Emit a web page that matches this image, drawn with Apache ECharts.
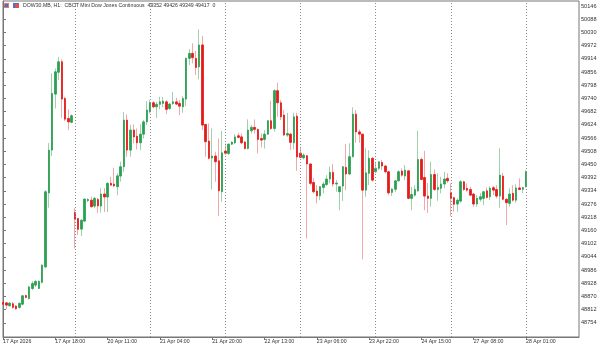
<!DOCTYPE html>
<html>
<head>
<meta charset="utf-8">
<script src="https://cdn.jsdelivr.net/npm/echarts@6/dist/echarts.min.js"></script>
<style>
html,body{margin:0;padding:0;background:#fff}
#main{width:600px;height:345px}
</style>
</head>
<body>
<div id="main"></div>
<script>
// DOW30.MB H1, 17 Apr 02:00 .. 28 Apr 01:00 (one bar per hour, bar index on x)
var openVals = [48844,48842,48829,48838,48828,48822,48836,48874,48861,48905,48920,48905,48932,49000,49325,49513,49759,49855,49901,49740,49652,49635,
	49239,49213,49166,49201,49291,49293,49267,49296,49267,49320,49307,49367,49364,49352,49399,49440,49645,49513,49601,49574,49545,49583,49637,
	49681,49721,49703,49714,49718,49725,49696,49718,49725,49718,49703,49737,49916,49938,49916,49879,49975,49626,49553,49478,49487,49466,49330,
	49509,49498,49539,49545,49576,49571,49549,49520,49598,49613,49604,49564,49560,49583,49642,49608,49774,49721,49667,49579,49583,49545,49662,
	49500,49479,49488,49452,49371,49333,49312,49349,49362,49386,49415,49364,49330,49355,49437,49408,49484,49671,49593,49583,49337,49411,49477,
	49418,49433,49459,49443,49418,49327,49341,49378,49421,49399,49422,49301,49315,49334,49472,49393,49311,49301,49406,49340,49345,49364,49389,
	49325,49304,49276,49289,49374,49345,49340,49320,49276,49297,49301,49334,49308,49348,49340,49311,49399,49297,49279,49323,49293,49347,49341,
	49352];
var closeVals = [48836,48832,48841,48822,48816,48840,48873,48866,48912,48927,48936,48937,49008,49330,49513,49762,49857,49901,49737,49649,49637,49664,
	49210,49165,49205,49298,49296,49264,49301,49268,49320,49307,49367,49359,49356,49400,49440,49645,49513,49601,49571,49545,49583,49637,49689,
	49721,49703,49714,49725,49728,49692,49715,49725,49715,49706,49740,49916,49938,49919,49876,49975,49623,49550,49477,49487,49462,49334,49501,
	49499,49539,49548,49571,49569,49545,49520,49601,49613,49604,49560,49557,49583,49642,49608,49774,49721,49659,49579,49586,49547,49659,49483,
	49481,49491,49452,49367,49330,49312,49352,49364,49386,49415,49364,49368,49352,49440,49408,49484,49671,49593,49583,49337,49413,49477,49381,
	49433,49462,49443,49418,49325,49342,49378,49418,49403,49425,49301,49318,49340,49472,49384,49311,49301,49406,49340,49349,49364,49386,49378,
	49301,49275,49293,49374,49340,49337,49315,49276,49301,49308,49330,49305,49345,49337,49311,49403,49297,49282,49320,49293,49347,49340,49348,
	49417];
var lowVals = [48832,48814,48827,48816,48812,48816,48831,48862,48857,48898,48911,48903,48927,48994,49260,49487,49696,49821,49655,49640,49601,49631,
	49081,49140,49135,49198,49285,49261,49257,49237,49239,49241,49241,49358,49350,49315,49374,49418,49484,49484,49542,49516,49513,49564,49623,
	49674,49697,49654,49692,49701,49671,49689,49711,49711,49667,49677,49706,49887,49894,49843,49824,49601,49484,49472,49340,49374,49223,49286,
	49491,49491,49535,49539,49564,49539,49515,49516,49586,49586,49499,49525,49520,49579,49601,49594,49659,49645,49577,49571,49513,49516,49422,
	49478,49472,49125,49359,49323,49279,49293,49323,49355,49367,49352,49330,49249,49290,49337,49403,49481,49545,49545,49033,49308,49359,49374,
	49411,49425,49425,49411,49315,49311,49330,49374,49396,49381,49297,49249,49308,49330,49381,49249,49237,49264,49334,49290,49323,49345,49369,
	49223,49242,49242,49282,49334,49330,49311,49264,49264,49286,49271,49301,49293,49315,49301,49260,49293,49184,49264,49286,49282,49337,49323,
	49349];
var highVals = [48849,48845,48845,48846,48832,48843,48877,48878,48917,48937,48942,48940,49011,49337,49544,49850,49872,49923,49912,49747,49692,49670,
	49258,49214,49210,49300,49302,49308,49308,49303,49345,49346,49372,49396,49434,49411,49462,49681,49670,49623,49626,49608,49626,49645,49728,
	49733,49728,49725,49747,49747,49733,49721,49769,49743,49733,49750,49920,49957,49982,49949,50043,50015,49627,49630,49608,49506,49564,49597,
	49542,49542,49552,49583,49589,49586,49552,49648,49623,49648,49608,49586,49601,49645,49730,49780,49809,49733,49689,49677,49589,49677,49677,
	49526,49499,49491,49455,49389,49359,49355,49374,49403,49440,49452,49381,49355,49443,49540,49543,49701,49689,49604,49586,49521,49513,49484,
	49462,49462,49469,49447,49421,49345,49381,49425,49433,49447,49425,49352,49359,49598,49481,49510,49369,49462,49428,49411,49396,49418,49411,
	49367,49308,49301,49381,49378,49367,49352,49325,49315,49325,49334,49349,49355,49355,49359,49521,49413,49301,49345,49359,49363,49389,49352,
	49426];
var xTickBars = [0,16,32,48,64,80,96,112,128,144,160];
var xTickLabels = ['17 Apr 2026','17 Apr 18:00','20 Apr 11:00','21 Apr 04:00','21 Apr 20:00','22 Apr 13:00',
	'23 Apr 06:00','23 Apr 22:00','24 Apr 15:00','27 Apr 08:00','28 Apr 01:00'];
var daySeparators = [22,45,68,91,114,137,160];
var yTicks = [48754,48812,48870,48928,48986,49044,49102,49160,49218,49276,49334,49392,49450,49508,
	49566,49624,49682,49740,49798,49856,49914,49972,50030,50088,50146];

var myChart = echarts.init(document.getElementById('main'));
var wickData = [], bodyData = [];
for (var i = 0; i < openVals.length; i++) {
	wickData.push([i, openVals[i], closeVals[i], lowVals[i], highVals[i]]);
	bodyData.push([i, openVals[i], closeVals[i], Math.min(openVals[i], closeVals[i]), Math.max(openVals[i], closeVals[i])]);
}
var sepLines = daySeparators.map(function(b){ return {xAxis: b}; });

var option = {
	animation: false,
	backgroundColor: '#fff',
	title: {
		text: 'DOW30.MB, H1:  CBOT Mini Dow Jones Continuous  49352 49426 49349 49417  0',
		left: 23, top: 3, padding: 0,
		textStyle: {fontFamily: 'Liberation Sans', fontSize: 5.2, fontWeight: 'normal', color: '#333'}
	},
	graphic: [
		{type: 'rect', left: 3, top: 3, shape: {width: 6, height: 5}, style: {fill: '#e07878'}},
		{type: 'rect', left: 5, top: 4, shape: {width: 3, height: 3}, style: {fill: '#4a6fd0'}},
		{type: 'rect', left: 13, top: 3, shape: {width: 6, height: 5}, style: {fill: '#4a6fd0'}},
		{type: 'rect', left: 15, top: 4, shape: {width: 4, height: 4}, style: {fill: '#e05050'}}
	],
	grid: {left: 0, right: 21, top: 1, bottom: 8, show: true, borderColor: '#777', borderWidth: 1},
	xAxis: {
		type: 'value', min: 0, max: 176.2,
		splitLine: {show: false},
		axisLine: {show: true, lineStyle: {color: '#777'}},
		axisTick: {show: true, length: 3, customValues: xTickBars, lineStyle: {color: '#777'}},
		axisLabel: {
			customValues: xTickBars, align: 'left', margin: 2,
			fontFamily: 'Liberation Sans', fontSize: 5.2, color: '#333',
			formatter: function(v){ return xTickLabels[xTickBars.indexOf(v)] || ''; }
		}
	},
	yAxis: {
		type: 'value', position: 'right', min: 48692, max: 50168, scale: true,
		splitLine: {show: false},
		axisLine: {show: true, lineStyle: {color: '#777'}},
		axisTick: {show: true, length: 3, customValues: yTicks, lineStyle: {color: '#777'}},
		axisLabel: {
			customValues: yTicks, margin: 2,
			fontFamily: 'Liberation Sans', fontSize: 5.6, color: '#333',
			formatter: function(v){ return String(v); }
		}
	},
	series: [
		{
			name: 'wick', type: 'candlestick', data: wickData,
			encode: {x: 0, y: [1, 2, 3, 4]},
			barWidth: 1, clip: true,
			itemStyle: {color: '#9fd1ac', color0: '#f0a8a8', borderColor: '#9fd1ac', borderColor0: '#f0a8a8', borderWidth: 1}
		},
		{
			name: 'body', type: 'candlestick', data: bodyData,
			encode: {x: 0, y: [1, 2, 3, 4]},
			barWidth: 2, clip: true,
			itemStyle: {color: '#2ba052', color0: '#e41b1b', borderColor: '#2ba052', borderColor0: '#e41b1b', borderWidth: 0.8},
			markLine: {
				silent: true, symbol: ['none', 'none'],
				label: {show: false},
				lineStyle: {color: '#8a8a8a', type: [1, 2], width: 1},
				data: sepLines
			}
		}
	]
};
myChart.setOption(option, true);
</script>
</body>
</html>
